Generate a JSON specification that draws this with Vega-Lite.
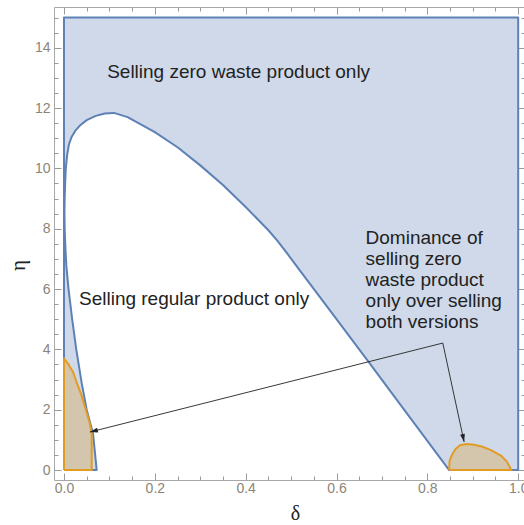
{
  "$schema": "https://vega.github.io/schema/vega-lite/v6.json",
  "width": 471,
  "height": 473,
  "autosize": {"type": "none"},
  "padding": {"left": 54, "top": 7, "right": 0, "bottom": 45},
  "background": "white",
  "config": {
    "view": {"stroke": "#a8a8a8", "strokeWidth": 1},
    "axis": {"domain": false, "grid": false, "tickColor": "#9a9a9a", "tickWidth": 1, "labelFont": "Liberation Sans", "labelFontSize": 14, "labelColor": "#8c8478"}
  },
  "datasets": {
    "blue": [
      {"i": 0, "d": 0, "e": 0}, {"i": 1, "d": 0, "e": 15}, {"i": 2, "d": 1, "e": 15}, {"i": 3, "d": 1, "e": 0},
      {"i": 4, "d": 0.848, "e": 0}, {"i": 5, "d": 0.75, "e": 1.98}, {"i": 6, "d": 0.671, "e": 3.58}, {"i": 7, "d": 0.6, "e": 5.0},
      {"i": 8, "d": 0.52, "e": 6.6}, {"i": 9, "d": 0.488, "e": 7.25}, {"i": 10, "d": 0.47, "e": 7.6}, {"i": 11, "d": 0.45, "e": 7.95}, {"i": 12, "d": 0.4, "e": 8.72},
      {"i": 13, "d": 0.35, "e": 9.45}, {"i": 14, "d": 0.3, "e": 10.1}, {"i": 15, "d": 0.25, "e": 10.7}, {"i": 16, "d": 0.2, "e": 11.2},
      {"i": 17, "d": 0.168, "e": 11.47}, {"i": 18, "d": 0.14, "e": 11.7}, {"i": 19, "d": 0.11, "e": 11.84}, {"i": 20, "d": 0.09, "e": 11.82},
      {"i": 21, "d": 0.07, "e": 11.74}, {"i": 22, "d": 0.05, "e": 11.6}, {"i": 23, "d": 0.035, "e": 11.42}, {"i": 24, "d": 0.025, "e": 11.25},
      {"i": 25, "d": 0.017, "e": 11.05}, {"i": 26, "d": 0.011, "e": 10.8}, {"i": 27, "d": 0.007, "e": 10.45}, {"i": 28, "d": 0.004, "e": 10.0},
      {"i": 29, "d": 0.0025, "e": 9.5}, {"i": 30, "d": 0.0015, "e": 9.0}, {"i": 31, "d": 0.001, "e": 8.5}, {"i": 32, "d": 0.0015, "e": 8.0},
      {"i": 33, "d": 0.003, "e": 7.4}, {"i": 34, "d": 0.005, "e": 6.8}, {"i": 35, "d": 0.01, "e": 6.0}, {"i": 36, "d": 0.018, "e": 5.0},
      {"i": 37, "d": 0.027, "e": 4.0}, {"i": 38, "d": 0.039, "e": 2.88}, {"i": 39, "d": 0.05, "e": 2.0}, {"i": 40, "d": 0.064, "e": 1.2},
      {"i": 41, "d": 0.072, "e": 0}, {"i": 42, "d": 0, "e": 0}
    ],
    "orange": [
      {"r": "L", "i": 0, "d": 0, "e": 0}, {"r": "L", "i": 1, "d": 0, "e": 3.7}, {"r": "L", "i": 2, "d": 0.01, "e": 3.5},
      {"r": "L", "i": 3, "d": 0.02, "e": 3.25}, {"r": "L", "i": 4, "d": 0.028, "e": 2.9}, {"r": "L", "i": 5, "d": 0.038, "e": 2.5},
      {"r": "L", "i": 6, "d": 0.048, "e": 2.0}, {"r": "L", "i": 7, "d": 0.056, "e": 1.6}, {"r": "L", "i": 8, "d": 0.061, "e": 1.2},
      {"r": "L", "i": 9, "d": 0.061, "e": 0}, {"r": "L", "i": 10, "d": 0, "e": 0},
      {"r": "R", "i": 0, "d": 0.848, "e": 0}, {"r": "R", "i": 1, "d": 0.849, "e": 0.3}, {"r": "R", "i": 2, "d": 0.854, "e": 0.5},
      {"r": "R", "i": 3, "d": 0.862, "e": 0.7}, {"r": "R", "i": 4, "d": 0.872, "e": 0.82}, {"r": "R", "i": 5, "d": 0.885, "e": 0.86},
      {"r": "R", "i": 6, "d": 0.9, "e": 0.85}, {"r": "R", "i": 7, "d": 0.92, "e": 0.78}, {"r": "R", "i": 8, "d": 0.94, "e": 0.66},
      {"r": "R", "i": 9, "d": 0.962, "e": 0.48}, {"r": "R", "i": 10, "d": 0.975, "e": 0.28}, {"r": "R", "i": 11, "d": 0.985, "e": 0},
      {"r": "R", "i": 12, "d": 0.848, "e": 0}
    ],
    "arrows": [
      {"a": "A1", "i": 0, "d": 0.834, "e": 4.21}, {"a": "A1", "i": 1, "d": 0.057, "e": 1.26},
      {"a": "A2", "i": 0, "d": 0.834, "e": 4.21}, {"a": "A2", "i": 1, "d": 0.881, "e": 0.93}
    ],
    "labels": [
      {"t": "Selling zero waste product only", "d": 0.095, "e": 13.0},
      {"t": "Selling regular product only", "d": 0.033, "e": 5.47},
      {"t": "Dominance of", "d": 0.664, "e": 7.49},
      {"t": "selling zero", "d": 0.664, "e": 6.8},
      {"t": "waste product", "d": 0.664, "e": 6.1},
      {"t": "only over selling", "d": 0.664, "e": 5.4},
      {"t": "both versions", "d": 0.664, "e": 4.71}
    ]
  },
  "resolve": {"axis": {"x": "independent", "y": "independent"}},
  "layer": [
    {
      "data": {"name": "blue"},
      "mark": {"type": "line", "fill": "#cfd9e9", "stroke": "#5e81b5", "strokeWidth": 2, "strokeJoin": "round", "interpolate": "linear"},
      "encoding": {
        "x": {"field": "d", "type": "quantitative", "scale": {"domain": [-0.022, 1.015], "nice": false, "zero": false},
          "axis": {"orient": "bottom", "values": [0,0.05,0.1,0.15,0.2,0.25,0.3,0.35,0.4,0.45,0.5,0.55,0.6,0.65,0.7,0.75,0.8,0.85,0.9,0.95,1],
            "tickSize": {"condition": {"test": "abs(datum.value*5-round(datum.value*5))<1e-6", "value": -7}, "value": -4},
            "labelExpr": "abs(datum.value*5-round(datum.value*5))<1e-6 ? format(datum.value,'.1f') : ''",
            "labelPadding": 8, "title": "δ", "titleFont": "Liberation Serif", "titleFontSize": 20, "titleFontWeight": "normal", "titleColor": "#222222",
            "titleX": 241, "titleY": 33, "titleBaseline": "middle", "titleAlign": "center"}},
        "y": {"field": "e", "type": "quantitative", "scale": {"domain": [-0.33, 15.35], "nice": false, "zero": false},
          "axis": {"orient": "left", "values": [0,0.5,1,1.5,2,2.5,3,3.5,4,4.5,5,5.5,6,6.5,7,7.5,8,8.5,9,9.5,10,10.5,11,11.5,12,12.5,13,13.5,14,14.5,15],
            "tickSize": {"condition": {"test": "datum.value % 2 === 0", "value": -7}, "value": -4},
            "labelExpr": "datum.value % 2 === 0 ? format(datum.value, 'd') : ''",
            "labelPadding": 11, "title": "η", "titleFont": "Liberation Serif", "titleFontSize": 21, "titleFontWeight": "normal", "titleColor": "#222222",
            "titleX": -36, "titleY": 258, "titleBaseline": "middle", "titleAlign": "center", "titleAngle": -90}},
        "order": {"field": "i", "type": "quantitative"}
      }
    },
    {
      "data": {"name": "orange"},
      "transform": [{"filter": "datum.r === 'L'"}],
      "mark": {"type": "line", "fill": "#e19c24", "fillOpacity": 0.3, "stroke": "#e19c24", "strokeWidth": 2, "strokeJoin": "round"},
      "encoding": {
        "x": {"field": "d", "type": "quantitative", "scale": {"domain": [-0.022, 1.015], "nice": false, "zero": false},
          "axis": {"orient": "top", "values": [0,0.05,0.1,0.15,0.2,0.25,0.3,0.35,0.4,0.45,0.5,0.55,0.6,0.65,0.7,0.75,0.8,0.85,0.9,0.95,1],
            "tickSize": {"condition": {"test": "abs(datum.value*5-round(datum.value*5))<1e-6", "value": -7}, "value": -4},
            "labels": false, "title": null}},
        "y": {"field": "e", "type": "quantitative", "scale": {"domain": [-0.33, 15.35], "nice": false, "zero": false},
          "axis": {"orient": "right", "values": [0,0.5,1,1.5,2,2.5,3,3.5,4,4.5,5,5.5,6,6.5,7,7.5,8,8.5,9,9.5,10,10.5,11,11.5,12,12.5,13,13.5,14,14.5,15],
            "tickSize": {"condition": {"test": "datum.value % 2 === 0", "value": -7}, "value": -4},
            "labels": false, "title": null}},
        "order": {"field": "i", "type": "quantitative"}
      }
    },
    {
      "data": {"name": "orange"},
      "transform": [{"filter": "datum.r === 'R'"}],
      "mark": {"type": "line", "fill": "#e19c24", "fillOpacity": 0.3, "stroke": "#e19c24", "strokeWidth": 2, "strokeJoin": "round"},
      "encoding": {
        "x": {"field": "d", "type": "quantitative", "scale": {"domain": [-0.022, 1.015], "nice": false, "zero": false}, "axis": null},
        "y": {"field": "e", "type": "quantitative", "scale": {"domain": [-0.33, 15.35], "nice": false, "zero": false}, "axis": null},
        "order": {"field": "i", "type": "quantitative"}
      }
    },
    {
      "data": {"name": "arrows"},
      "mark": {"type": "line", "stroke": "#222222", "strokeWidth": 0.9},
      "encoding": {
        "x": {"field": "d", "type": "quantitative", "scale": {"domain": [-0.022, 1.015], "nice": false, "zero": false}, "axis": null},
        "y": {"field": "e", "type": "quantitative", "scale": {"domain": [-0.33, 15.35], "nice": false, "zero": false}, "axis": null},
        "detail": {"field": "a"},
        "order": {"field": "i", "type": "quantitative"}
      }
    },
    {
      "data": {"name": "arrows"},
      "transform": [{"filter": "datum.a === 'A1' && datum.i === 1"}],
      "mark": {"type": "point", "shape": "M0,0L0.6,2L-0.6,2Z", "size": 64, "filled": true, "fill": "#222222", "strokeWidth": 0, "opacity": 1, "angle": 256},
      "encoding": {
        "x": {"field": "d", "type": "quantitative", "scale": {"domain": [-0.022, 1.015], "nice": false, "zero": false}, "axis": null},
        "y": {"field": "e", "type": "quantitative", "scale": {"domain": [-0.33, 15.35], "nice": false, "zero": false}, "axis": null}
      }
    },
    {
      "data": {"name": "arrows"},
      "transform": [{"filter": "datum.a === 'A2' && datum.i === 1"}],
      "mark": {"type": "point", "shape": "M0,0L0.6,2L-0.6,2Z", "size": 64, "filled": true, "fill": "#222222", "strokeWidth": 0, "opacity": 1, "angle": 168},
      "encoding": {
        "x": {"field": "d", "type": "quantitative", "scale": {"domain": [-0.022, 1.015], "nice": false, "zero": false}, "axis": null},
        "y": {"field": "e", "type": "quantitative", "scale": {"domain": [-0.33, 15.35], "nice": false, "zero": false}, "axis": null}
      }
    },
    {
      "data": {"name": "labels"},
      "mark": {"type": "text", "align": "left", "baseline": "alphabetic", "font": "Liberation Sans", "fontSize": 19, "fill": "#222222"},
      "encoding": {
        "x": {"field": "d", "type": "quantitative", "scale": {"domain": [-0.022, 1.015], "nice": false, "zero": false}, "axis": null},
        "y": {"field": "e", "type": "quantitative", "scale": {"domain": [-0.33, 15.35], "nice": false, "zero": false}, "axis": null},
        "text": {"field": "t"}
      }
    }
  ]
}
